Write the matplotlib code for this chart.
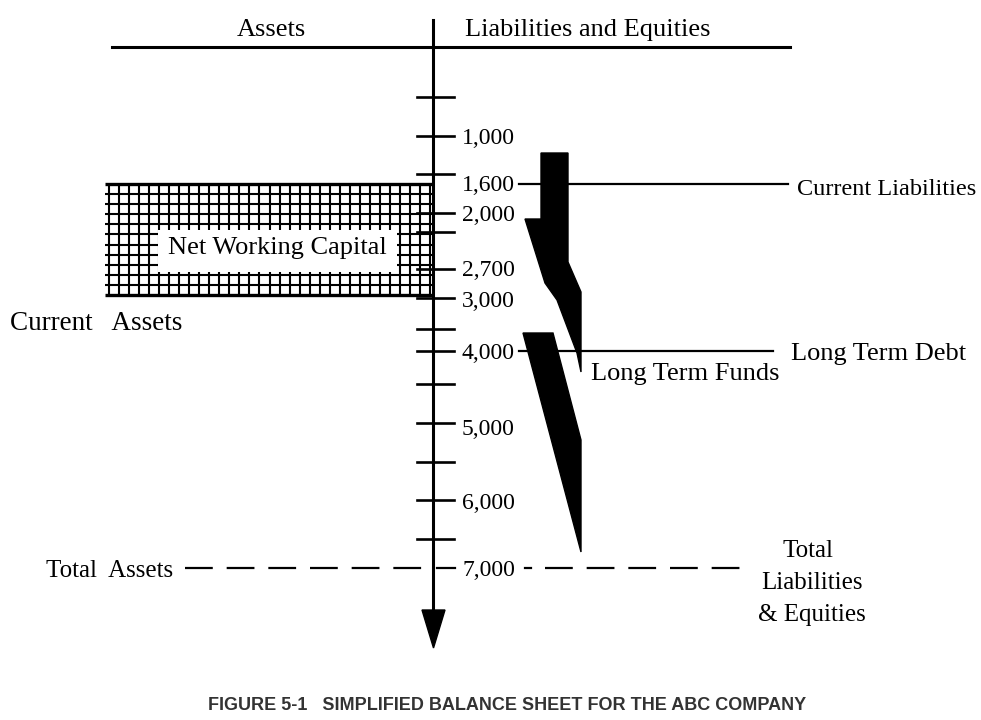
import numpy as np
import matplotlib
matplotlib.use('Agg')
import matplotlib.pyplot as plt
from matplotlib.patches import Polygon, Rectangle

plt.rcParams['font.family'] = 'Liberation Serif'
plt.rcParams['lines.scale_dashes'] = False

# Balance sheet scale: tick labels and where they sit on the vertical axis
tick_labels = ['1,000', '1,600', '2,000', '2,700', '3,000', '4,000', '5,000', '6,000', '7,000']
label_y = [136, 183, 213, 268, 299, 351, 427, 501, 568]
tick_y = [97, 136, 174, 213, 232, 269, 298, 329, 351, 384, 423, 462, 500, 539]

caption = 'FIGURE 5-1   SIMPLIFIED BALANCE SHEET FOR THE ABC COMPANY'

fig = plt.figure(figsize=(9.81, 7.2), dpi=100)
ax = fig.add_axes([0, 0, 1, 1])
ax.set_xlim(0, 981)
ax.set_ylim(720, 0)
ax.axis('off')

AXIS_X = 433

# header T-account
ax.plot([112, 790], [47, 47], color='black', lw=2.2)
ax.text(271, 36, 'Assets', ha='center', va='baseline', fontsize=19)
ax.text(588, 36, 'Liabilities and Equities', ha='center', va='baseline', fontsize=19)

# vertical axis with arrow head
ax.plot([AXIS_X, AXIS_X], [20, 615], color='black', lw=2.2, zorder=4)
ax.add_patch(Polygon([(422, 610), (445, 610), (433.5, 648)], closed=True,
                     color='black', zorder=4))

for y in tick_y:
    ax.plot([417, 454], [y, y], color='black', lw=1.9, zorder=4)

for lab, y in zip(tick_labels, label_y):
    ax.text(462, y + 8, lab, ha='left', va='baseline', fontsize=17)

# current assets block, cross-hatched
gx0, gx1, gy0, gy1 = 105, 432, 184, 295
ax.vlines(np.linspace(gx0 + 4, gx1 - 2, 33), gy0, gy1, color='black', lw=1.5, zorder=2)
ax.hlines(np.linspace(gy0, gy1, 12)[1:-1], gx0, gx1, color='black', lw=1.5, zorder=2)
ax.hlines([gy0, gy1], gx0, gx1, color='black', lw=2.4, zorder=2)
ax.add_patch(Rectangle((158, 230), 239, 42, facecolor='white', edgecolor='none', zorder=3))
ax.text(277, 254, 'Net Working Capital', ha='center', va='baseline', fontsize=19, zorder=5)
ax.text(10, 330, 'Current   Assets', ha='left', va='baseline', fontsize=19.5)

# liabilities lines
ax.plot([519, 788], [184, 184], color='black', lw=1.6)
ax.text(797, 195, 'Current Liabilities', ha='left', va='baseline', fontsize=17.5)
ax.plot([519, 773], [351, 351], color='black', lw=1.6)
ax.text(791, 360, 'Long Term Debt', ha='left', va='baseline', fontsize=19)
ax.text(591, 380, 'Long Term Funds', ha='left', va='baseline', fontsize=19)

# black wedges for the funding sources
upper = [(541, 153), (568, 153), (568, 262), (581, 292), (581, 372),
         (577, 353), (557, 300), (545, 283), (525, 219), (541, 219)]
lower = [(523, 333), (553, 333), (581, 440), (581, 552)]
ax.add_patch(Polygon(upper, closed=True, color='black', zorder=3))
ax.add_patch(Polygon(lower, closed=True, color='black', zorder=3))

# totals line
ax.plot([185, 427], [568, 568], color='black', lw=1.6, dashes=(20, 10))
ax.plot([437, 455], [568, 568], color='black', lw=1.6)
ax.plot([525, 531], [568, 568], color='black', lw=1.6)
ax.plot([545, 740], [568, 568], color='black', lw=1.6, dashes=(20, 10))
ax.text(173, 577, 'Total  Assets', ha='right', va='baseline', fontsize=18)
ax.text(808, 557, 'Total', ha='center', va='baseline', fontsize=18)
ax.text(812, 589, 'Liabilities', ha='center', va='baseline', fontsize=18)
ax.text(812, 621, '& Equities', ha='center', va='baseline', fontsize=18)

ax.text(507, 706, caption, ha='center', va='center', fontsize=13,
        fontweight='bold', family='Liberation Sans', color='#333333')

fig.savefig('out.png', dpi=100)
